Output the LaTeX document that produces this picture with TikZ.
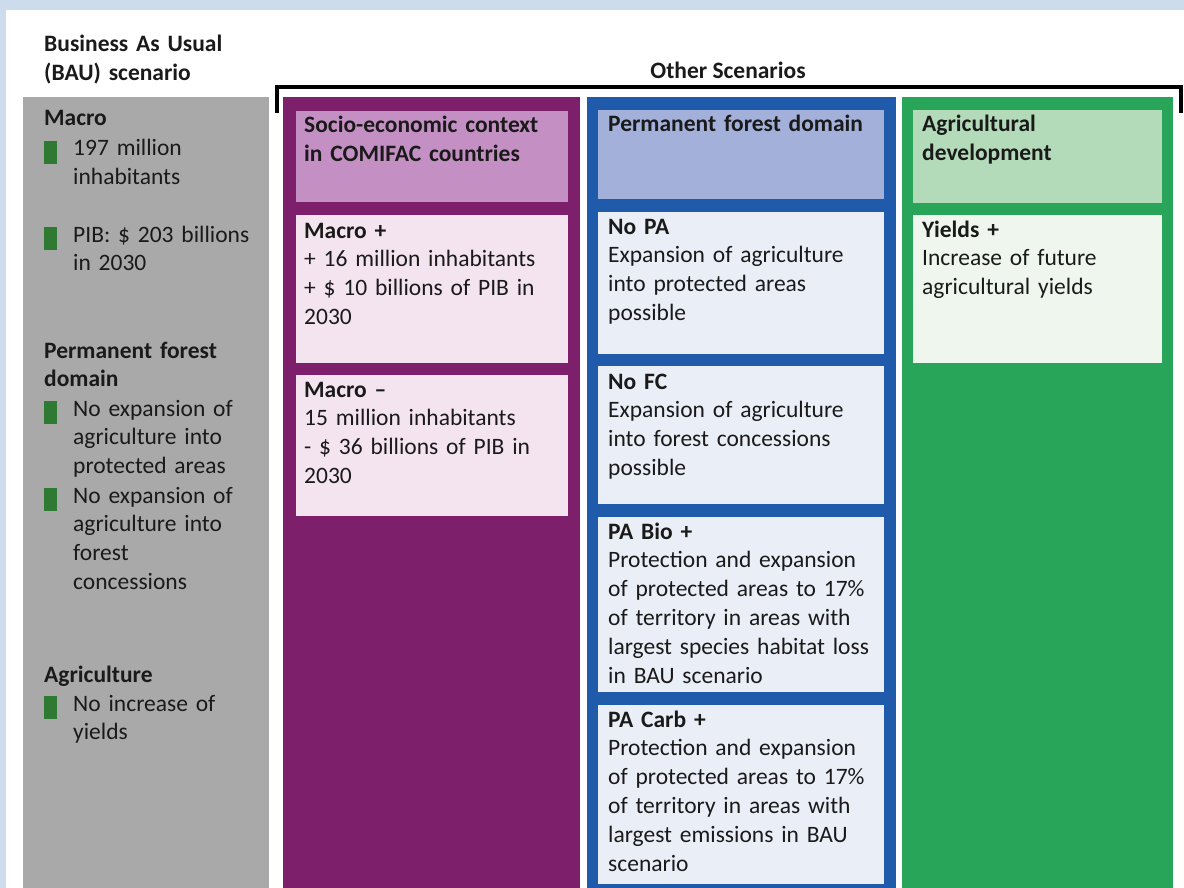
\documentclass[tikz,border=0pt]{standalone}
\usepackage{fontspec}
\setmainfont{Carlito}
\definecolor{bgblue}{HTML}{CDDCEC}
\definecolor{ink}{HTML}{1A1A1A}
\definecolor{graycol}{HTML}{A9A9A9}
\definecolor{bulletgreen}{HTML}{2E7A33}
\definecolor{purplecol}{HTML}{7E1F6B}
\definecolor{purplehead}{HTML}{C490C4}
\definecolor{purplebox}{HTML}{F4E4F0}
\definecolor{bluecol}{HTML}{1F5BAA}
\definecolor{bluehead}{HTML}{A3B1DA}
\definecolor{bluebox}{HTML}{EAEEF7}
\definecolor{greencol}{HTML}{28A558}
\definecolor{greenhead}{HTML}{B3DBBA}
\definecolor{greenbox}{HTML}{EEF6EE}
\tikzset{
  txt/.style={anchor=base west, inner sep=0pt, text width=330pt, align=left,
    font=\fontsize{23.5}{28.8}\selectfont, text=ink},
  bulletbox/.style={fill=bulletgreen},
  bracketline/.style={line width=3.5pt, draw=black, line join=miter}
}
\begin{document}
\begin{tikzpicture}[x=1pt,y=-1pt]
\useasboundingbox (0,0) rectangle (1184,888);
% background
\fill[bgblue] (0,0) rectangle (1184,888);
\fill[white] (6,10) rectangle (1184,888);

% BAU title
\node[txt] (bautitle) at (44,52) {\textbf{Business As Usual}\\\textbf{(BAU) scenario}};

% gray column
\fill[graycol] (23,97) rectangle (269,888);
\node[txt] (macro) at (44,126) {\textbf{Macro}};
\fill[bulletbox] (44,141) rectangle (57,164);
\node[txt] (pop) at (73,156) {197 million\\inhabitants};
\fill[bulletbox] (44,227) rectangle (57,250);
\node[txt] (pib) at (73,242) {PIB: \$ 203 billions\\in 2030};
\node[txt] (pfd) at (44,358) {\textbf{Permanent forest}\\\textbf{domain}};
\fill[bulletbox] (44,401) rectangle (57,424);
\node[txt] (nopa) at (73,416) {No expansion of\\agriculture into\\protected areas};
\fill[bulletbox] (44,488) rectangle (57,511);
\node[txt] (nofc) at (73,503) {No expansion of\\agriculture into\\forest\\concessions};
\node[txt] (agri) at (44,682) {\textbf{Agriculture}};
\fill[bulletbox] (44,696) rectangle (57,719);
\node[txt] (noyield) at (73,711) {No increase of\\yields};

% bracket
\node[txt, anchor=base, text width=] (other) at (728,79) {\textbf{Other Scenarios}};
\draw[bracketline] (277,113) -- (277,87) -- (1181,87) -- (1181,113);

% purple column
\fill[purplecol] (283,97) rectangle (580,888);
\fill[purplehead] (296,111) rectangle (568,202);
\fill[purplebox] (296,215) rectangle (568,363);
\fill[purplebox] (296,375) rectangle (568,516);
\node[txt] (socio) at (304,133) {\textbf{Socio-economic context}\\\textbf{in COMIFAC countries}};
\node[txt] (macroplus) at (304,238) {\textbf{Macro +}\\+ 16 million inhabitants\\+ \$ 10 billions of PIB in\\2030};
\node[txt] (macrominus) at (304,397) {\textbf{Macro –}\\15 million inhabitants\\- \$ 36 billions of PIB in\\2030};

% blue column
\fill[bluecol] (587,97) rectangle (896,888);
\fill[bluehead] (598,110) rectangle (884,199);
\fill[bluebox] (598,212) rectangle (884,354);
\fill[bluebox] (598,366) rectangle (884,504);
\fill[bluebox] (598,517) rectangle (884,692);
\fill[bluebox] (598,705) rectangle (884,884);
\node[txt] (pfdhead) at (608,132) {\textbf{Permanent forest domain}};
\node[txt] (nopabox) at (608,234) {\textbf{No PA}\\Expansion of agriculture\\into protected areas\\possible};
\node[txt] (nofcbox) at (608,389) {\textbf{No FC}\\Expansion of agriculture\\into forest concessions\\possible};
\node[txt] (pabio) at (608,539) {\textbf{PA Bio +}\\Protection and expansion\\of protected areas to 17\%\\of territory in areas with\\largest species habitat loss\\in BAU scenario};
\node[txt] (pacarb) at (608,727) {\textbf{PA Carb +}\\Protection and expansion\\of protected areas to 17\%\\of territory in areas with\\largest emissions in BAU\\scenario};

% green column
\fill[greencol] (902,97) rectangle (1173,888);
\fill[greenhead] (913,110) rectangle (1162,203);
\fill[greenbox] (913,215) rectangle (1162,363);
\node[txt] (agdev) at (922,132) {\textbf{Agricultural}\\\textbf{development}};
\node[txt] (yields) at (922,237) {\textbf{Yields +}\\Increase of future\\agricultural yields};
\end{tikzpicture}
\end{document}
